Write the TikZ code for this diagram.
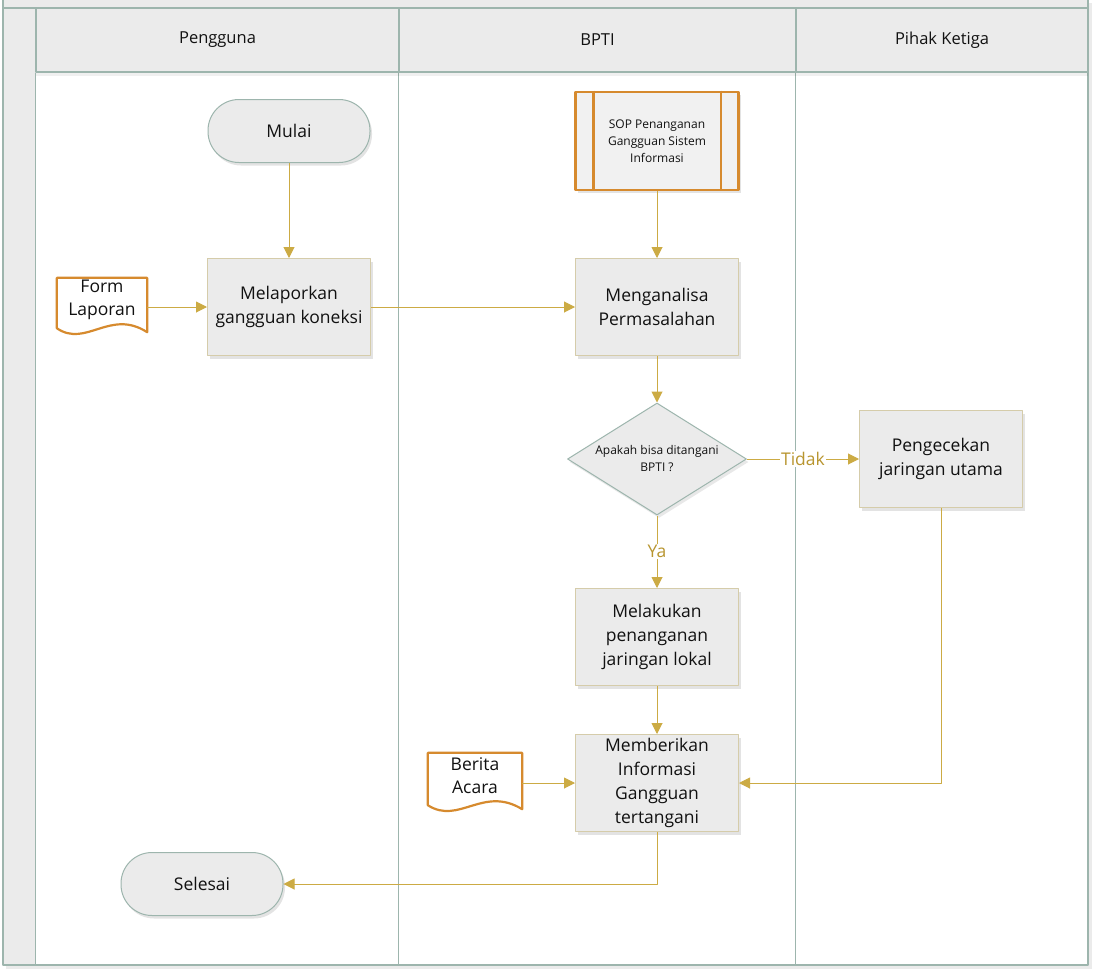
\documentclass[tikz,border=0pt]{standalone}
\usepackage{fontspec}
\setmainfont{Open Sans}
\usetikzlibrary{arrows.meta,shapes.geometric,shadows,calc}

\definecolor{lanegray}{HTML}{9DB5AD}
\definecolor{headfill}{HTML}{EBEBEB}
\definecolor{procline}{HTML}{D5CCAA}
\definecolor{docorange}{HTML}{D68A2E}
\definecolor{flowgold}{HTML}{CCAB44}
\definecolor{labelgold}{HTML}{B8952F}
\definecolor{inktext}{HTML}{111111}

\begin{document}
\begin{tikzpicture}[x=1pt, y=-1pt, line join=round,
  lane/.style={draw=lanegray, line width=1.2pt},
  lanehead/.style={draw=lanegray, line width=1.2pt, fill=headfill, minimum height=64pt, inner sep=0pt, text=inktext, font=\fontsize{16.5}{20}\selectfont},
  proc/.style={draw=procline, fill=headfill, line width=1pt, minimum width=163pt, minimum height=97pt, inner sep=0pt, align=center, text=inktext, font=\fontsize{17.5}{24}\selectfont, drop shadow={opacity=0.22, shadow xshift=2pt, shadow yshift=-3pt}},
  term/.style={draw=lanegray, fill=headfill, line width=1pt, minimum width=162pt, minimum height=63pt, rounded corners=31pt, text=inktext, font=\fontsize{17.5}{22}\selectfont, drop shadow={opacity=0.22, shadow xshift=2pt, shadow yshift=-3pt}},
  decide/.style={diamond, draw=lanegray, fill=headfill, line width=1pt, minimum width=179pt, minimum height=112pt, aspect=1.6, inner sep=0pt, align=center, text=inktext, font=\fontsize{12}{17}\selectfont, drop shadow={opacity=0.18, shadow xshift=2pt, shadow yshift=-3pt}},
  subproc/.style={draw=docorange, fill=headfill!70!white, line width=2.6pt, minimum width=163pt, minimum height=98pt, inner sep=0pt, align=center, text=inktext, font=\fontsize{12}{17}\selectfont, drop shadow={opacity=0.22, shadow xshift=2pt, shadow yshift=-3pt}},
  doc/.style={inner sep=0pt, align=center, text=inktext, font=\fontsize{17.5}{23}\selectfont},
  docline/.style={draw=docorange, fill=white, line width=2.2pt},
  flow/.style={draw=flowgold, line width=1pt, -{Triangle[length=11pt,width=11pt]}},
  lbl/.style={fill=white, inner sep=1pt, text=labelgold, font=\fontsize{17.5}{22}\selectfont}
]
\useasboundingbox (0,0) rectangle (1104,972);

\fill[black, opacity=.08] (6,3) rectangle (1092,969);
\fill[white] (3,-5) rectangle (1088,965);
\fill[headfill] (3,-5) rectangle (1088,8);
\fill[headfill] (3,8) rectangle (36,965);
\draw[lane] (3,-5) rectangle (1088,965);
\draw[lane] (3,8) -- (1088,8);

\node[lanehead, minimum width=363pt] (pengguna) at (217.5,40) {Pengguna};
\node[lanehead, minimum width=397pt] (bpti) at (597.5,40) {BPTI};
\node[lanehead, minimum width=292pt] (ketiga) at (942,40) {Pihak Ketiga};

\foreach \i in {pengguna, bpti, ketiga}
    \draw[lane] (\i.south west) -- (\i.south west |- 0,965);
\fill[black, opacity=.06] (36,73) rectangle (1088,76);

\node[term] (mulai) at (289,131) {Mulai};
\node[subproc] (sop) at (657,141) {SOP Penanganan\\Gangguan Sistem\\Informasi};
\draw[docorange, line width=2.6pt] ($(sop.north west)+(19,0)$) -- ($(sop.south west)+(19,0)$);
\draw[docorange, line width=2.6pt] ($(sop.north east)+(-19,0)$) -- ($(sop.south east)+(-19,0)$);

\node[proc] (lapor) at (289,307) {Melaporkan\\gangguan koneksi};
\node[proc] (analisa) at (657,307) {Menganalisa\\Permasalahan};
\node[decide] (tanya) at (657,459) {Apakah bisa ditangani\\BPTI ?};
\node[proc] (cek) at (941,459) {Pengecekan\\jaringan utama};
\node[proc] (lokal) at (657,637) {Melakukan\\penanganan\\jaringan lokal};
\node[proc] (info) at (657,783) {Memberikan\\Informasi\\Gangguan\\tertangani};
\node[term] (selesai) at (202,884) {Selesai};

\node[doc, minimum width=90pt, minimum height=44pt] (form) at (102,300) {};
\node[doc, minimum width=94pt, minimum height=46pt] (berita) at (475,776) {};
\foreach \i in {form, berita} {
    \fill[black, opacity=.15, xshift=2pt, yshift=-3pt] (\i.north west) -- (\i.north east) -- ($(\i.south east)+(0,10)$)
        .. controls ($(\i.south)+(8,-14)$) and ($(\i.south)+(-16,26)$) .. ($(\i.south west)+(0,6)$) -- cycle;
    \draw[docline] (\i.north west) -- (\i.north east) -- ($(\i.south east)+(0,10)$)
        .. controls ($(\i.south)+(8,-14)$) and ($(\i.south)+(-16,26)$) .. ($(\i.south west)+(0,6)$) -- cycle;
}
\node[doc] at (form) {Form\\Laporan};
\node[doc] at (berita) {Berita\\Acara};

\draw[flow] (mulai) -- (lapor);
\draw[flow] (form.east |- lapor.west) -- (lapor.west);
\draw[flow] (lapor) -- (analisa);
\draw[flow] (sop) -- (analisa);
\draw[flow] (analisa) -- (tanya);
\draw[flow] (tanya.east) -- node[lbl] {Tidak} (cek.west);
\draw[flow] (tanya.south) -- node[lbl] {Ya} (lokal.north);
\draw[flow] (lokal) -- (info);
\draw[flow] (berita.east |- info.west) -- (info.west);
\draw[flow] (cek.south) |- (info.east);
\draw[flow] (info.south) |- (selesai.east);

\end{tikzpicture}
\end{document}
